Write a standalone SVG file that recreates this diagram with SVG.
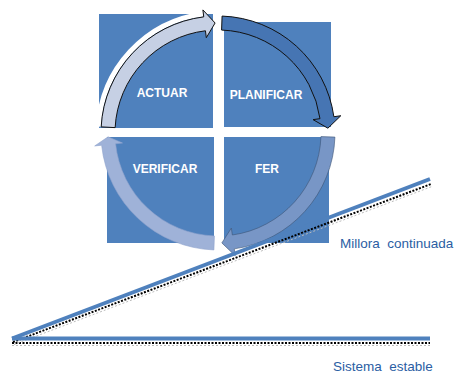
<svg xmlns="http://www.w3.org/2000/svg" width="462" height="374" viewBox="0 0 462 374">
<style>
.sq{fill:#4f81bd}
.lbl{font-family:"Liberation Sans",Arial,sans-serif;font-weight:bold;font-size:12px;fill:#ffffff;text-anchor:middle}
.cap{font-family:"Liberation Sans",Arial,sans-serif;font-size:13.5px;fill:#2a5ea3}
</style>
<rect width="462" height="374" fill="#ffffff"/>
<g id="actuar"><rect class="sq" x="99" y="14" width="114" height="114"/><text class="lbl" x="162" y="97">ACTUAR</text></g>
<g id="planificar"><rect class="sq" x="224" y="22" width="107" height="105"/><text class="lbl" x="266" y="99">PLANIFICAR</text></g>
<g id="verificar"><rect class="sq" x="107" y="137" width="107" height="106"/><text class="lbl" x="165" y="173">VERIFICAR</text></g>
<g id="fer"><rect class="sq" x="224" y="137" width="105" height="106"/><text class="lbl" x="267" y="173">FER</text></g>
<g id="connectors">
<path d="M98.5,126.7 A120 120 0 0 1 203.4,13.9" fill="none" stroke="#ffffff" stroke-width="5"/>
<path d="M101.16,126.88 A117 117 0 0 1 203.74,16.87 L202.9,9.92 L215.1,23.0 L206.3,37.7 L205.45,30.77 A103 103 0 0 0 115.14,127.61 Z" fill="#c6d0e4" stroke="#111111" stroke-width="1"/>
<path d="M222.08,16.07 A117 117 0 0 1 333.86,116.72 L340.79,115.74 L327.9,128.2 L313.07,119.64 L320.0,118.67 A103 103 0 0 0 221.59,30.06 Z" fill="#4675b3" stroke="#111111" stroke-width="1"/>
<path d="M334.93,137.08 A117 117 0 0 1 234.28,248.86 L235.26,255.79 L221.84,242.93 L231.36,228.07 L232.33,235.0 A103 103 0 0 0 320.94,136.59 Z" fill="#7896c6" stroke="#3d5475" stroke-width="0.6"/>
<path d="M213.92,249.93 A117 117 0 0 1 101.64,145.23 L94.68,145.96 L108.07,136.84 L122.53,143.03 L115.56,143.77 A103 103 0 0 0 214.41,235.94 Z" fill="#9fb2d8" stroke="#8ea3cc" stroke-width="0.6"/>
<line x1="12" y1="343" x2="430" y2="343" stroke="#000000" stroke-width="2" stroke-dasharray="2 1.5"/>
<line x1="12" y1="345.5" x2="430" y2="345.5" stroke="#bbbbbb" stroke-width="1" stroke-dasharray="2 2"/>
<line x1="13" y1="342" x2="431" y2="184" stroke="#000000" stroke-width="2" stroke-dasharray="2 1.5"/>
<line x1="14" y1="344.5" x2="432" y2="186.5" stroke="#bbbbbb" stroke-width="1" stroke-dasharray="2 2"/>
<line x1="12" y1="338.5" x2="430" y2="338.5" stroke="#4f81bd" stroke-width="4"/>
<line x1="12" y1="338.5" x2="430" y2="179" stroke="#4f81bd" stroke-width="4"/>
</g>
<text class="cap" x="340" y="248" xml:space="preserve">Millora  continuada</text>
<text class="cap" x="333" y="371" xml:space="preserve">Sistema  estable</text>
</svg>
